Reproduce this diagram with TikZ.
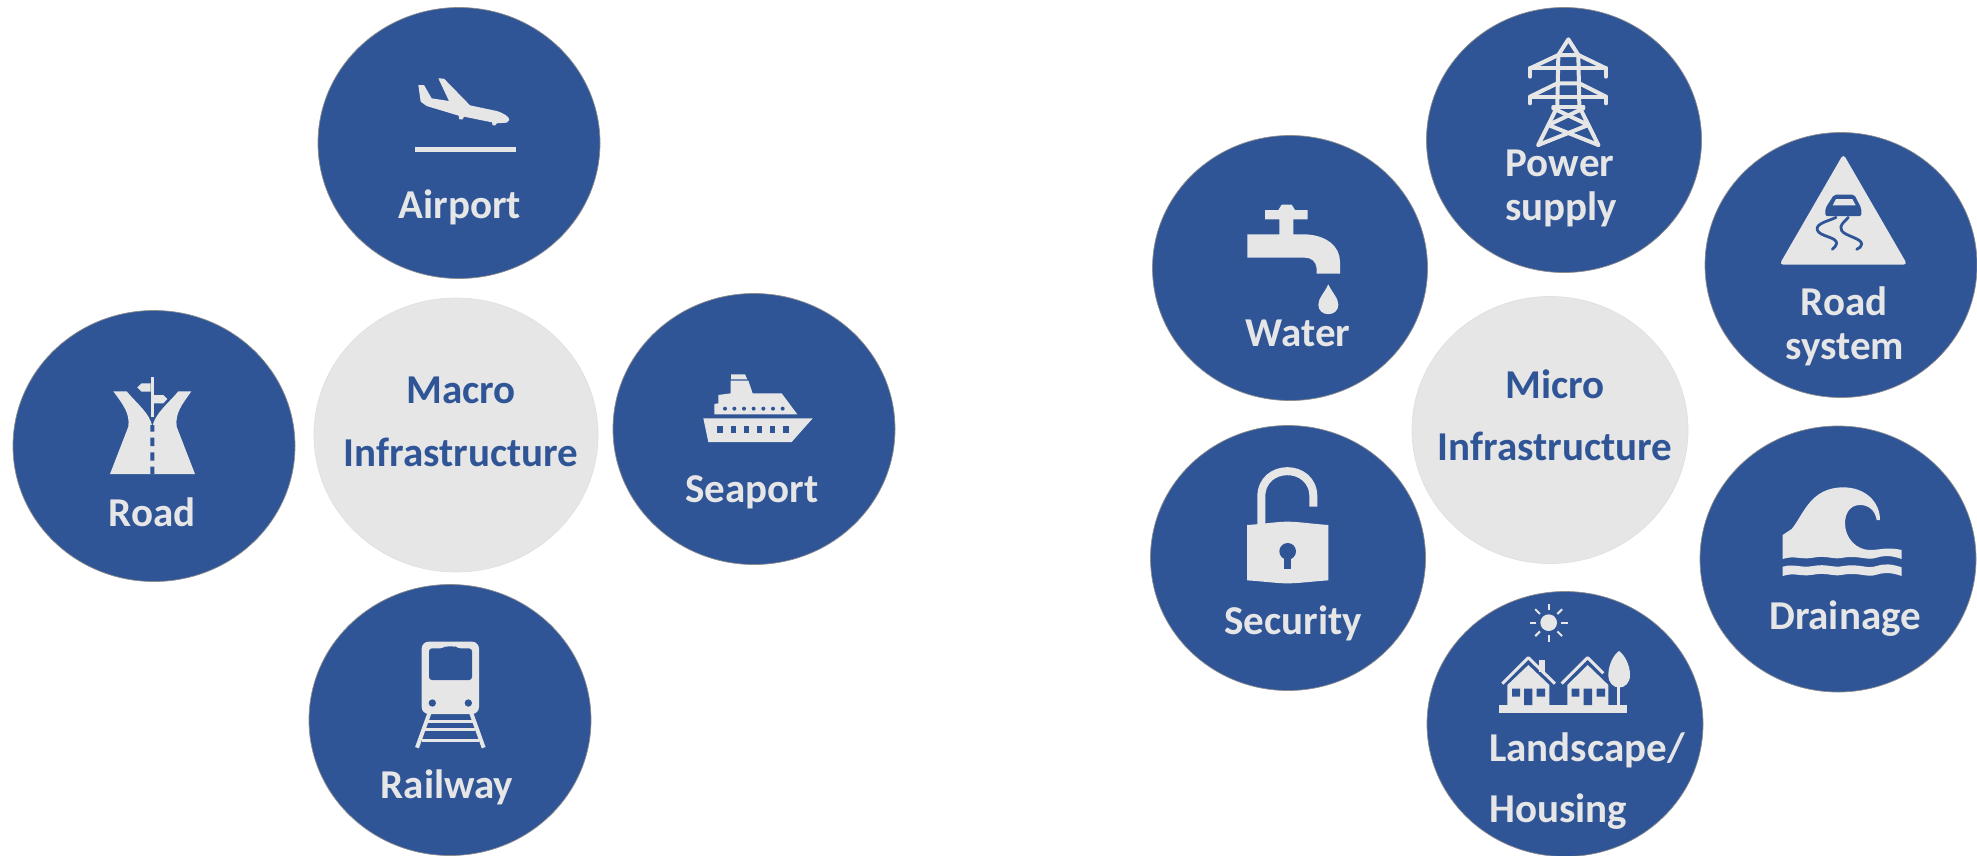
\documentclass[tikz,border=0pt]{standalone}
\usepackage{fontspec}
\setmainfont{Carlito}
\usetikzlibrary{shapes.geometric}
\definecolor{hubblue}{HTML}{2F5597}
\definecolor{hubgrey}{HTML}{E6E6E6}
\tikzset{
  bluedisc/.style={ellipse,draw=black!45,line width=0.7pt,fill=hubblue,inner sep=0pt,minimum width=#1},
  bluedisc/.default=280pt,
  greydisc/.style={ellipse,draw=black!12,line width=0.7pt,fill=hubgrey,inner sep=0pt},
  lbl/.style={anchor=base,inner sep=0pt,text=hubgrey,font=\fontsize{41}{41}\selectfont\bfseries},
  hublbl/.style={anchor=base,inner sep=0pt,text=hubblue,font=\fontsize{41}{41}\selectfont\bfseries},
  zoomed/.style 2 args={shift={(#1,#2)},scale=0.33333},
  ink/.style={fill=hubgrey,draw=none},
  cut/.style={fill=hubblue,draw=none},
  wire/.style={draw=hubgrey,line width=#1,line cap=round,line join=round,fill=none},
  bluewire/.style={draw=hubblue,line width=#1,line cap=round,line join=round,fill=none}
}
\begin{document}
\begin{tikzpicture}[x=1pt,y=-1pt]
\useasboundingbox (0,0) rectangle (1977,855);
\fill[white] (0,0) rectangle (1977,855);
% discs
\node[bluedisc=282pt,minimum height=271pt] (airport) at (459,143) {};
\node[bluedisc=282pt,minimum height=271pt] (road) at (154,446) {};
\node[bluedisc=282pt,minimum height=271pt] (seaport) at (754,429) {};
\node[bluedisc=282pt,minimum height=271pt] (railway) at (450,720) {};
\node[greydisc,minimum width=284pt,minimum height=274pt] (macro) at (456,435) {};
\node[greydisc,minimum width=276pt,minimum height=267pt] (micro) at (1550,430) {};
\node[bluedisc=275pt,minimum height=265pt] (power) at (1564,140) {};
\node[bluedisc=272pt,minimum height=265pt] (roadsys) at (1841,265) {};
\node[bluedisc=275pt,minimum height=265pt] (water) at (1290,268) {};
\node[bluedisc=275pt,minimum height=265pt] (security) at (1288,558) {};
\node[bluedisc=276pt,minimum height=265pt] (housing) at (1565,724) {};
\node[bluedisc=276pt,minimum height=266pt] (drainage) at (1838,559) {};
% labels
\node[lbl] (tairport) at (460,218) {Airport};
\node[lbl] (troad) at (152,526) {Road};
\node[lbl] (tseaport) at (752,502) {Seaport};
\node[lbl] (trailway) at (447,798) {Railway};
\node[hublbl] (tmacroa) at (461,403) {Macro};
\node[hublbl] (tmacrob) at (461,466) {Infrastructure};
\node[hublbl] (tmicroa) at (1555,398) {Micro};
\node[hublbl] (tmicrob) at (1555,460) {Infrastructure};
\node[lbl] (tpowera) at (1560,176) {Power};
\node[lbl] (tpowerb) at (1561,220) {supply};
\node[lbl] (troadsa) at (1844,315) {Road};
\node[lbl] (troadsb) at (1845,359) {system};
\node[lbl] (twater) at (1298,346) {Water};
\node[lbl] (tsecurity) at (1293,634) {Security};
\node[lbl,anchor=base west] (tlanda) at (1489,761) {Landscape/};
\node[lbl,anchor=base west] (tlandb) at (1489,822) {Housing};
\node[lbl] (tdrainage) at (1845,629) {Drainage};
% airplane
\begin{scope}[zoomed={300}{0}]
\fill[ink] (355,255) -- (372,255) -- (395,295) -- (447,303) -- (415,235) -- (432,236) -- (510,316) -- (590,333) .. controls (612,340) and (628,350) .. (628,360) -- (620,368) -- (590,370) -- (586,376) -- (578,376) -- (576,367) -- (492,350) -- (488,358) -- (478,358) -- (476,347) -- (380,318) -- (362,305) -- cycle;
\fill[ink] (345,441) rectangle (647,456);
\end{scope}
% road
\begin{scope}[zoomed={0}{290}]
\fill[ink] (340,304) -- (380,304) .. controls (410,340) and (450,370) .. (457,410) .. controls (465,370) and (505,340) .. (535,304) -- (574,304) .. controls (545,345) and (525,370) .. (530,410) -- (585,552) -- (330,552) -- (385,410) .. controls (390,370) and (370,345) .. (340,304) -- cycle;
\fill[cut] (451,405) rectangle (463,425) (451,443) rectangle (463,468) (451,487) rectangle (463,512) (451,530) rectangle (463,552);
\fill[ink] (452,262) rectangle (461,380);
\fill[ink] (412,292) -- (425,280) -- (452,280) -- (452,305) -- (425,305) -- cycle;
\fill[ink] (461,315) -- (490,315) -- (502,327) -- (490,340) -- (461,340) -- cycle;
\end{scope}
% ship
\begin{scope}[zoomed={600}{290}]
\fill[ink] (310,385) -- (638,385) -- (575,456) -- (325,456) -- cycle;
\foreach \wx in {352,392,431,471,510,550} \fill[cut] (\wx,408) rectangle ++(16,20);
\fill[ink] (343,373) -- (343,342) -- (355,340) -- (355,315) -- (392,310) -- (392,272) -- (445,272) -- (458,310) -- (545,310) -- (592,373) -- cycle;
\foreach \wx in {375,403,432,461,490,519,548} \fill[cut] (\wx,356) circle[radius=6];
\fill[ink] (393,253) -- (435,253) -- (442,268) -- (393,268) -- cycle;
\end{scope}
% train
\begin{scope}[zoomed={300}{580}]
\fill[ink,rounded corners=7pt] (365,185) rectangle (537,402);
\fill[cut,rounded corners=3pt] (387,205) -- (430,205) -- (436,199) -- (466,199) -- (472,205) -- (516,205) -- (516,300) -- (387,300) -- cycle;
\fill[cut] (397,369) circle[radius=11] (505,369) circle[radius=11];
\draw[wire=4pt,line cap=butt] (388,400) -- (351,503) (514,400) -- (551,503);
\draw[wire=3pt,line cap=butt] (384,423) -- (518,423) (376,448) -- (526,448) (366,480) -- (536,480);
\end{scope}
% pylon
\begin{scope}[zoomed={1420}{0}]
\draw[wire=4pt] (355,435) -- (412,320) -- (415,165) -- (445,118) -- (475,165) -- (478,320) -- (535,435);
\draw[wire=4pt] (330,230) -- (330,205) -- (558,205) -- (558,230);
\draw[wire=4pt] (330,205) -- (415,165) -- (475,165) -- (558,205);
\draw[wire=4pt] (330,310) -- (330,290) -- (558,290) -- (558,310);
\draw[wire=4pt] (330,290) -- (412,250) -- (478,250) -- (558,290);
\draw[wire=4pt] (400,320) -- (490,320);
\draw[wire=4pt] (400,325) -- (505,375) -- (355,435);
\draw[wire=4pt] (490,325) -- (385,375) -- (535,435);
\end{scope}
% slippery road sign
\begin{scope}[zoomed={1700}{130}]
\fill[ink,rounded corners=4pt] (430,72) -- (238,404) -- (622,404) -- cycle;
\fill[cut,rounded corners=2pt] (402,194) -- (463,194) -- (484,235) -- (484,258) -- (376,258) -- (376,235) -- cycle;
\fill[ink] (408,207) -- (457,207) -- (467,226) -- (398,226) -- cycle;
\draw[bluewire=2.8pt] (408,262) .. controls (390,272) and (345,280) .. (352,300) .. controls (358,320) and (410,320) .. (410,340) .. controls (410,348) and (402,352) .. (397,358);
\draw[bluewire=2.8pt] (445,262) .. controls (435,275) and (415,285) .. (425,302) .. controls (435,318) and (485,325) .. (485,342) .. controls (485,350) and (478,354) .. (470,358);
\end{scope}
% tap
\begin{scope}[zoomed={1150}{130}]
\fill[ink] (345,240) -- (385,240) -- (395,224) -- (425,224) -- (435,240) -- (473,240) -- (473,268) -- (430,268) -- (430,313) -- (465,313) .. controls (530,315) and (570,350) .. (570,395) -- (570,431) -- (500,431) -- (500,415) .. controls (498,395) and (485,383) .. (465,383) -- (292,383) -- (292,313) -- (388,313) -- (388,268) -- (345,268) -- cycle;
\fill[ink] (535,463) .. controls (522,490) and (505,505) .. (505,524) .. controls (505,562) and (565,562) .. (565,524) .. controls (565,505) and (548,490) .. (535,463) -- cycle;
\end{scope}
% lock
\begin{scope}[zoomed={1150}{425}]
\draw[wire=8pt,line cap=butt] (334,300) -- (334,215) .. controls (334,113) and (490,113) .. (490,215) -- (490,245);
\fill[ink] (291,300) .. controls (350,296) and (380,290) .. (412,290) .. controls (445,290) and (480,296) .. (535,300) -- (535,466) .. controls (480,470) and (445,475) .. (412,475) .. controls (380,475) and (350,470) .. (291,466) -- cycle;
\fill[cut] (413,379) circle[radius=25];
\fill[cut] (403,395) rectangle (422,431);
\end{scope}
% houses
\begin{scope}[zoomed={1420}{590}]
\fill[ink] (386,98) circle[radius=25];
\foreach \ra in {0,45,...,315} \draw[wire=2pt,line cap=butt] (386,98) ++(\ra:37) -- ++(\ra:20);
\fill[ink] (238,345) rectangle (622,370);
\fill[ink] (262,285) -- (325,225) -- (388,285) -- (388,345) -- (262,345) -- cycle;
\fill[ink] (358,210) rectangle (375,245);
\draw[wire=3pt,line cap=butt] (247,281) -- (325,203) -- (405,281);
\fill[cut] (276,296) rectangle (300,320) (350,296) rectangle (375,320) (312,296) rectangle (337,345);
\fill[ink] (442,285) -- (503,225) -- (565,285) -- (565,345) -- (442,345) -- cycle;
\draw[wire=3pt,line cap=butt] (425,281) -- (503,203) -- (550,250);
\fill[cut] (455,296) rectangle (478,320) (530,296) rectangle (555,320) (491,296) rectangle (516,345);
\fill[ink] (592,288) rectangle (601,345);
\fill[ink] (597,183) .. controls (580,195) and (565,225) .. (565,255) .. controls (565,305) and (630,305) .. (630,255) .. controls (630,225) and (614,195) .. (597,183) -- cycle;
\end{scope}
% wave
\begin{scope}[zoomed={1700}{425}]
\fill[ink] (248,330) -- (275,312) .. controls (310,270) and (330,187) .. (430,187) .. controls (495,187) and (540,230) .. (540,285) -- (530,285) .. controls (525,255) and (505,240) .. (480,240) .. controls (450,240) and (435,265) .. (435,295) .. controls (435,340) and (470,375) .. (510,375) .. controls (540,375) and (560,365) .. (605,375) -- (605,402) .. controls (575,392) and (555,390) .. (530,398) .. controls (500,408) and (480,390) .. (430,398) .. controls (400,405) and (380,390) .. (340,398) .. controls (300,405) and (285,390) .. (248,402) -- cycle;
\fill[ink] (248,425) .. controls (285,415) and (300,430) .. (340,423) .. controls (380,415) and (400,430) .. (430,423) .. controls (480,415) and (500,433) .. (530,423) .. controls (555,415) and (575,417) .. (605,427) -- (605,453) .. controls (575,443) and (555,441) .. (530,449) .. controls (500,459) and (480,441) .. (430,449) .. controls (400,456) and (380,441) .. (340,449) .. controls (300,456) and (285,441) .. (248,453) -- cycle;
\end{scope}
\end{tikzpicture}
\end{document}
